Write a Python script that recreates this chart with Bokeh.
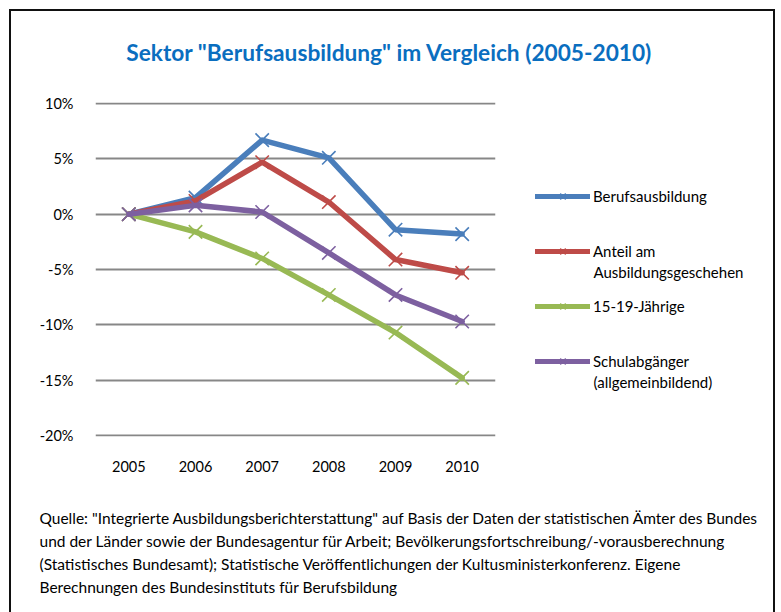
from bokeh.plotting import figure
from bokeh.layouts import column, row
from bokeh.models import (Range1d, FactorRange, FixedTicker, Legend, LegendItem, Label)
from bokeh.embed import file_html
from bokeh.resources import INLINE

# ---- data ----
years = ["2005", "2006", "2007", "2008", "2009", "2010"]
berufsausbildung = [0.0, 0.015, 0.067, 0.051, -0.014, -0.018]
anteil = [0.0, 0.012, 0.047, 0.011, -0.041, -0.053]
jaehrige = [0.0, -0.016, -0.040, -0.073, -0.107, -0.148]
schulabgaenger = [0.0, 0.008, 0.002, -0.035, -0.073, -0.097]

series_names = ["Berufsausbildung", "Anteil am", "15-19-Jährige", "Schulabgänger"]
series_second_lines = ["", "Ausbildungsgeschehen", "", "(allgemeinbildend)"]
series_colors = ["#4A7EBB", "#BE4B48", "#98B954", "#7D60A0"]

y_ticks = [-0.20, -0.15, -0.10, -0.05, 0.0, 0.05, 0.10]
y_tick_labels = ["-20%", "-15%", "-10%", "-5%", "0%", "5%", "10%"]

title_text = 'Sektor "Berufsausbildung" im Vergleich (2005-2010)'
source_lines = [
    'Quelle: "Integrierte Ausbildungsberichterstattung" auf Basis der Daten der statistischen Ämter des Bundes',
    'und der Länder sowie der Bundesagentur für Arbeit; Bevölkerungsfortschreibung/-vorausberechnung',
    '(Statistisches Bundesamt);  Statistische Veröffentlichungen der Kultusministerkonferenz. Eigene',
    'Berechnungen des Bundesinstituts für Berufsbildung',
]

FONT = "Lato"
X0, Y0 = 11, 11            # page position of the content (inside the border)
TOTAL_W, TOTAL_H = 762, 601
TITLE_H = 70               # title band: page y 11..81
MAIN_W, MAIN_H = 490, 410  # chart band: page y 81..491
SRC_H = TOTAL_H - TITLE_H - MAIN_H


def style_blank(f):
    f.axis.visible = False
    f.grid.visible = False
    f.outline_line_color = None
    f.background_fill_color = "white"
    f.border_fill_color = "white"
    return f


def blank_fig(w, h):
    f = figure(width=w, height=h, x_range=Range1d(0, 1), y_range=Range1d(0, 1),
               output_backend="svg", toolbar_location=None,
               min_border=0, min_border_left=0, min_border_right=0,
               min_border_top=0, min_border_bottom=0)
    return style_blank(f)


def add_label(f, x, y, text, size, color="#000000", style="normal", align="left"):
    f.add_layout(Label(x=x, y=y, x_units="screen", y_units="screen", text=text,
                       text_font=FONT, text_font_size=size, text_color=color,
                       text_font_style=style, text_align=align, text_baseline="middle"))


# ---- title band ----
title_fig = blank_fig(TOTAL_W, TITLE_H)
add_label(title_fig, 389 - X0, (Y0 + TITLE_H) - 52, title_text, "22.7px",
          color="#0A6EBF", style="bold", align="center")

# ---- chart ----
top_page = Y0 + TITLE_H
ML = 95 - X0
MT = 102 - top_page
FW, FH = 400, 334
MB = MAIN_H - MT - FH
p = figure(width=MAIN_W, height=MAIN_H, x_range=FactorRange(factors=years, range_padding=0),
           y_range=Range1d(-0.201, 0.101), output_backend="svg", toolbar_location=None,
           min_border_left=ML, min_border_top=MT,
           min_border_right=MAIN_W - ML - FW, min_border_bottom=MB)
p.outline_line_color = None
p.background_fill_color = "white"
p.border_fill_color = "white"
p.xgrid.grid_line_color = None
p.ygrid.grid_line_color = "#878787"
p.ygrid.grid_line_width = 2
p.yaxis.ticker = FixedTicker(ticks=y_ticks)
p.yaxis.major_label_overrides = {t: l for t, l in zip(y_ticks, y_tick_labels)}
for ax in (p.xaxis, p.yaxis):
    ax.axis_line_color = None
    ax.major_tick_line_color = None
    ax.minor_tick_line_color = None
    ax.major_label_text_font = FONT
    ax.major_label_text_font_size = "14.5px"
    ax.major_label_text_color = "#000000"
p.yaxis.major_label_standoff = 16
p.xaxis.major_label_standoff = 18

data = [berufsausbildung, anteil, jaehrige, schulabgaenger]
for vals, col in zip(data, series_colors):
    p.line(years, vals, line_color=col, line_width=5.5, line_cap="round", line_join="round")
    p.scatter(years, vals, marker="x", size=19, line_color=col, line_width=1.6)

# ---- legend band (same series, plotted off-view so only the legend shows) ----
LEG_W = TOTAL_W - MAIN_W
leg_fig = figure(width=LEG_W, height=MAIN_H, x_range=FactorRange(factors=years, range_padding=0),
                 y_range=Range1d(1.0, 2.0), output_backend="svg", toolbar_location=None,
                 min_border_left=0, min_border_right=0, min_border_top=MT, min_border_bottom=MB)
style_blank(leg_fig)
leg_left_page = X0 + MAIN_W
frame_bottom_page = 102 + FH
items = []
for name, vals, col in zip(series_names, data, series_colors):
    lr = leg_fig.line(years, vals, line_color=col, line_width=5, line_cap="round")
    sr = leg_fig.scatter(years, vals, marker="x", size=16, line_color=col, line_width=1.6)
    items.append(LegendItem(label=name, renderers=[lr, sr]))
n = len(items)
legend_h = n * 20 + (n - 1) * 35
legend = Legend(items=items, location=(535 - leg_left_page, frame_bottom_page - (186 + legend_h)),
                padding=0, margin=0, spacing=35,
                glyph_width=55, glyph_height=20, label_height=20, label_standoff=3,
                border_line_color=None, background_fill_alpha=0,
                label_text_font=FONT, label_text_font_size="15px",
                label_text_color="#000000", label_text_baseline="middle")
leg_fig.add_layout(legend, "center")
for i, line in enumerate(series_second_lines):
    if line:
        add_label(leg_fig, 593 - leg_left_page, frame_bottom_page - (196 + 55 * i + 20), line, "15px")

# ---- source band ----
src_fig = blank_fig(TOTAL_W, SRC_H)
src_bottom_page = Y0 + TOTAL_H
for i, line in enumerate(source_lines):
    add_label(src_fig, 39 - X0, src_bottom_page - (517 + 23 * i), line, "15.5px")

layout = column(title_fig, row(p, leg_fig, spacing=0), src_fig, spacing=0)
layout.styles = {"margin-left": "9px", "margin-top": "9px",
                 "border-left": "2px solid #111", "border-top": "2px solid #111",
                 "border-right": "2px solid #111"}

open("out.html", "w").write(file_html(layout, INLINE))
